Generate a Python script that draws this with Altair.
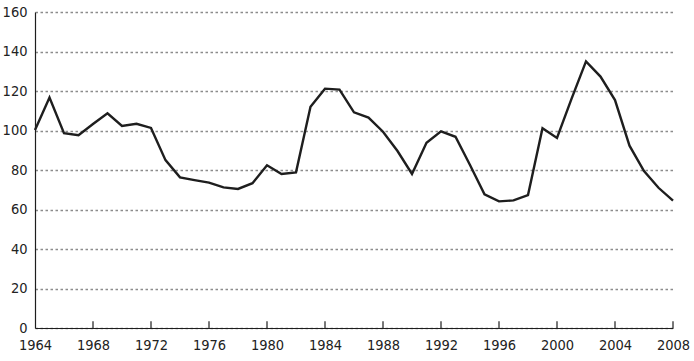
import altair as alt
import pandas as pd

years = list(range(1964, 2009))
values = [100.3, 116.7, 98.6, 97.6, 103.3, 108.7, 102.3, 103.4, 101.3, 85.0,
          76.3, 74.9, 73.6, 71.2, 70.4, 73.3, 82.4, 78.0, 78.8, 112.0,
          121.2, 120.7, 109.2, 106.5, 99.4, 89.6, 78.0, 93.8, 99.6, 96.8,
          82.5, 67.7, 64.1, 64.6, 67.3, 101.1, 96.2, 116.0, 135.0, 127.3,
          115.4, 92.3, 79.5, 71.0, 64.5]
tick_years = list(range(1968, 2009, 4))
x_labels = list(range(1964, 2009, 4))
y_ticks = list(range(0, 161, 20))

df = pd.DataFrame({"year": years, "value": values})
ticks_df = pd.DataFrame({"year": tick_years, "y0": [0] * len(tick_years), "y1": [3.4] * len(tick_years)})

FONT = "Liberation Sans Narrow, DejaVu Sans Condensed, Arial Narrow, sans-serif"

x_scale = alt.Scale(domain=[1964, 2008], nice=False, zero=False)
y_scale = alt.Scale(domain=[0, 160], nice=False)

x_axis = alt.Axis(values=x_labels, format="d", title=None,
                  grid=False, ticks=False, domain=True, domainColor="#1e1e1e",
                  domainWidth=1.2, labelFont=FONT, labelFontSize=14.5,
                  labelColor="#222", labelPadding=10, labelFlush=False,
                  labelOverlap=False)
y_axis = alt.Axis(values=y_ticks, title=None, grid=True, gridColor="#8c8c8c",
                  gridDash=[2.5, 2.5], gridWidth=1.6, ticks=False,
                  domain=True, domainColor="#1e1e1e", domainWidth=1.2,
                  labelFont=FONT, labelFontSize=14.5, labelColor="#222",
                  labelPadding=8, labelOverlap=False)

line = alt.Chart(df).mark_line(color="#1e1e1e", strokeWidth=2.4).encode(
    x=alt.X("year:Q", scale=x_scale, axis=x_axis),
    y=alt.Y("value:Q", scale=y_scale, axis=y_axis),
)

tick_rules = alt.Chart(ticks_df).mark_rule(color="#1e1e1e", strokeWidth=1.2).encode(
    x=alt.X("year:Q", scale=x_scale, axis=x_axis),
    y=alt.Y("y0:Q", scale=y_scale, axis=y_axis),
    y2="y1:Q",
)

chart = alt.layer(line, tick_rules).properties(
    width=638, height=316,
    autosize=alt.AutoSizeParams(type="none"),
    padding={"left": 35, "top": 12, "right": 21, "bottom": 33},
    background="white",
).configure_view(stroke=None)

chart.save("out.html", embed_options={"renderer": "svg", "actions": False})
